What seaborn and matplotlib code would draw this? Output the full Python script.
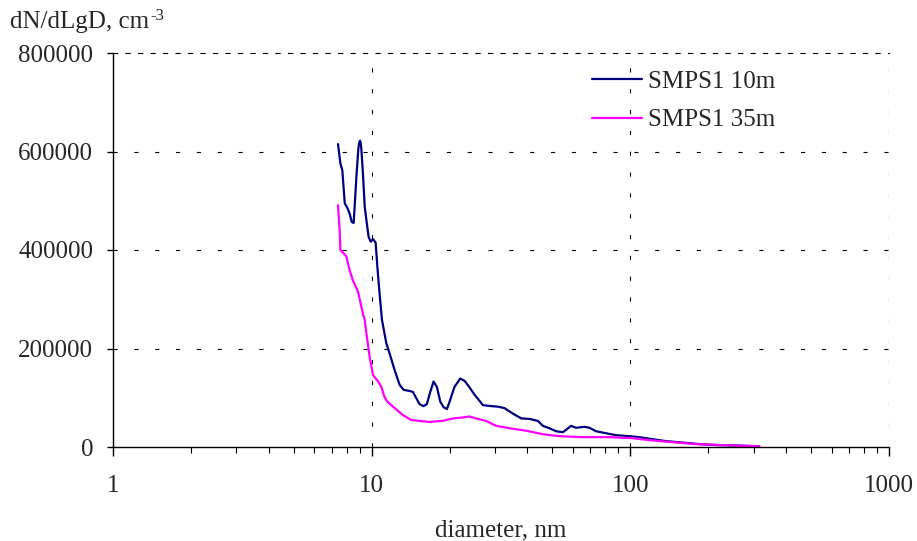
import matplotlib
matplotlib.use("Agg")
import matplotlib.pyplot as plt
import seaborn as sns
import pandas as pd
from matplotlib.ticker import FixedLocator, LogLocator, NullFormatter

# ---- data ----
d_10m = [7.41, 7.57, 7.7, 7.87, 8.06, 8.22, 8.37, 8.52, 8.73, 8.89, 8.96, 9.02, 9.07, 9.12, 9.25,
         9.40, 9.54, 9.73, 9.91, 10.12, 10.36, 10.52, 10.74, 10.96, 11.4, 11.73, 12.27, 12.83, 13.3,
         13.94, 14.43, 14.88, 15.32, 15.87, 16.34, 16.85, 17.35, 17.87, 18.42, 18.96, 19.54, 20.1,
         20.9, 22.0, 22.9, 23.9, 25.0, 26.1, 26.9, 29.0, 30.7, 32.6, 35.1, 37.9, 40.8, 43.9, 45.9,
         48.7, 51.7, 54.8, 56.8, 59.0, 61.7, 66.4, 69.5, 73.7, 80.5, 88.0, 99, 108, 118, 137, 159,
         184, 214, 260, 315]
n_10m = [615, 576, 562, 495, 485, 474, 457, 455, 549, 608, 619, 622, 617, 606, 556, 488, 461, 427,
         417, 422, 415, 366, 309, 258, 210, 190, 156, 126, 116, 114, 112, 99, 87, 83, 87, 112, 133,
         122, 92, 81, 77, 95, 122, 139, 134, 121, 106, 94, 85, 83, 82, 79, 68, 58, 57, 53, 43, 38,
         32, 30, 36, 43, 39, 41, 39, 32, 28, 24, 22, 20, 17, 12, 9, 6, 4, 3, 1.5]

d_35m = [7.41, 7.52, 7.57, 7.74, 7.98, 8.22, 8.45, 8.86, 9.12, 9.25, 9.40, 9.54, 9.82, 10.12, 10.6,
         10.9, 11.2, 11.5, 12.27, 13.2, 14.2, 15.3, 16.7, 18.8, 20.6, 22.5, 23.9, 25.3, 27.7, 30.3,
         34.2, 39.6, 45.9, 53, 65.1, 82.9, 102, 118, 137, 184, 250, 315]
n_35m = [491, 441, 400, 395, 387, 359, 339, 315, 285, 271, 258, 231, 183, 146, 133, 122, 102, 92,
         79, 65, 55, 53, 51, 53, 58, 60, 62, 58, 53, 43, 38, 33, 26, 22, 20, 20, 18, 14, 11, 5.5,
         3, 1.5]

series_names = ["SMPS1 10m", "SMPS1 35m"]
series_colors = ["#000080", "#FF00FF"]
y_ticks = [0, 200000, 400000, 600000, 800000]
x_ticks = [1, 10, 100, 1000]
x_tick_labels = ["1", "10", "100", "1000"]

df = pd.concat([
    pd.DataFrame({"d": d_10m, "n": [v * 1000 for v in n_10m], "series": series_names[0]}),
    pd.DataFrame({"d": d_35m, "n": [v * 1000 for v in n_35m], "series": series_names[1]}),
], ignore_index=True)

sns.set_theme(style="white")
plt.rcParams["font.family"] = ["Liberation Serif", "DejaVu Serif"]
plt.rcParams["lines.scale_dashes"] = False

FS = 18
fig = plt.figure(figsize=(9.17, 5.41), dpi=100)
ax = fig.add_axes([113 / 917, 1 - 447 / 541, (889 - 113) / 917, (447 - 53) / 541])

sns.lineplot(data=df, x="d", y="n", hue="series", palette=series_colors,
             hue_order=series_names, linewidth=1.6, ax=ax, sort=False, estimator=None)

ax.set_xscale("log")
ax.set_xlim(1, 1000)
ax.set_ylim(0, 800000)

# grid lines (dashed)
for yv in y_ticks[1:-1]:
    ax.axhline(yv, color="black", lw=0.8, linestyle=(0, (3, 12)), zorder=0)
for xv in x_ticks[1:]:
    ax.axvline(xv, color="black", lw=0.8, linestyle=(0, (3, 12)), zorder=0)

ax.spines["right"].set_visible(False)
ax.spines["top"].set_visible(True)
ax.spines["top"].set_color("black")
ax.spines["top"].set_linewidth(0.8)
ax.spines["top"].set_linestyle((0, (3, 6)))
for s in ["left", "bottom"]:
    ax.spines[s].set_color("black")
    ax.spines[s].set_linewidth(1.0)

ax.xaxis.set_major_locator(FixedLocator(x_ticks))
ax.set_xticklabels(x_tick_labels)
ax.xaxis.set_minor_locator(LogLocator(base=10, subs=range(2, 10)))
ax.xaxis.set_minor_formatter(NullFormatter())
ax.yaxis.set_major_locator(FixedLocator(y_ticks))
ax.set_yticklabels([str(v) for v in y_ticks])

ax.tick_params(axis="x", which="major", direction="out", length=6.5, width=1, color="black",
               labelsize=FS, pad=14, bottom=True)
ax.tick_params(axis="x", which="minor", direction="out", length=4.3, width=0.8, color="black",
               bottom=True)
ax.tick_params(axis="y", which="major", direction="out", length=4.3, width=1, color="black",
               labelsize=FS, pad=10, left=True)

ax.set_xlabel("diameter, nm", fontsize=FS, labelpad=16)
ax.set_ylabel("")

# y-axis title with small superscript
t_main = fig.text(10 / 917, 1 - 28 / 541, "dN/dLgD, cm", fontsize=FS, ha="left", va="baseline")
fig.canvas.draw()
bb = t_main.get_window_extent(renderer=fig.canvas.get_renderer())
fig.text((bb.x1 + 1) / 917, 1 - 20 / 541, "-3", fontsize=12, ha="left", va="baseline")

leg = ax.legend(loc="upper left", bbox_to_anchor=(592 / 917, 1 - 70 / 541),
                bbox_transform=fig.transFigure, frameon=False, fontsize=FS,
                handlelength=2.0, handletextpad=0.25, labelspacing=0.66,
                borderpad=0, borderaxespad=0)
for line in leg.get_lines():
    line.set_linewidth(1.6)

fig.savefig("out.png", dpi=100)
